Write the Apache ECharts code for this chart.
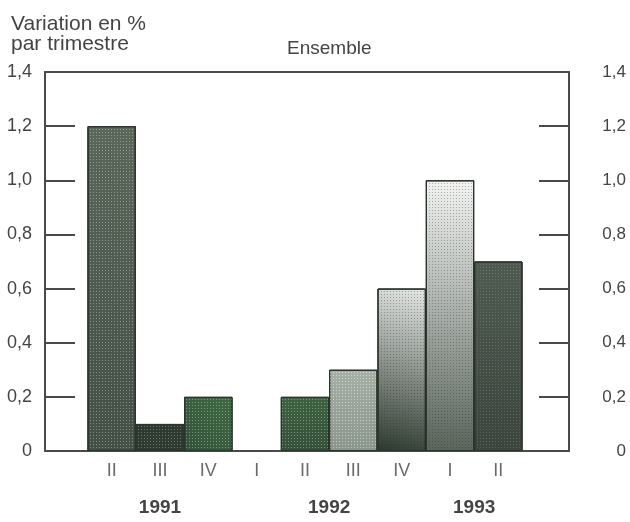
<!DOCTYPE html>
<html>
<head>
<meta charset="utf-8">
<script src="https://cdn.jsdelivr.net/npm/echarts@6/dist/echarts.min.js"></script>
<style>
html,body{margin:0;padding:0;background:#fff;}
#chart{width:630px;height:522px;}
</style>
</head>
<body>
<div id="chart"></div>
<script>
// ---- data ----
var quarters = ['II', 'III', 'IV', 'I', 'II', 'III', 'IV', 'I', 'II'];
var quarterYear = ['1991', '1991', '1991', '1992', '1992', '1992', '1992', '1993', '1993'];
var years = ['1991', '1992', '1993'];
var values = [1.2, 0.1, 0.2, 0, 0.2, 0.3, 0.6, 1.0, 0.7];
var yTicks = ['0', '0,2', '0,4', '0,6', '0,8', '1,0', '1,2', '1,4'];

// ---- styles (per bar) ----
function grad(c1, c2, x0, y0, x1, y1) {
  return new echarts.graphic.LinearGradient(x0, y0, x1, y1, [
    {offset: 0, color: c1}, {offset: 1, color: c2}
  ]);
}
var barFills = [
  grad('#5b675b', '#434e44', 1, 0, 0, 1),
  '#2e3a30',
  grad('#3f6a41', '#33513a', 1, 0, 0, 1),
  '#3a4a3c',
  grad('#3d6340', '#35503a', 0, 0, 0, 1),
  grad('#a7b0a7', '#8a958b', 0, 0, 0, 1),
  grad('#e6e8e6', '#2c382e', 1, 0, 0, 1),
  grad('#f3f4f3', '#59645b', 0.6, 0, 0.2, 1),
  grad('#4f5a51', '#3b453d', 0, 0, 0, 1)
];
var dotColors = [
  'rgba(255,255,255,0.35)', 'rgba(255,255,255,0.3)', 'rgba(255,255,255,0.35)',
  'rgba(255,255,255,0.3)', 'rgba(255,255,255,0.35)', 'rgba(255,255,255,0.45)',
  'rgba(40,50,40,0.35)', 'rgba(40,50,40,0.35)', 'rgba(255,255,255,0.15)'
];

var FONT = '"Liberation Sans", Arial, sans-serif';

var chart = echarts.init(document.getElementById('chart'), null, {renderer: 'canvas'});

var frameGrid = {left: 45, right: 61, top: 72, bottom: 71, containLabel: false};
var barGrid = {left: 87.5, right: 107.5, top: 72, bottom: 71, containLabel: false};

function yLabel(v) {
  var i = Math.round(v / 0.2);
  return yTicks[i] !== undefined ? yTicks[i] : '';
}

var frameLine = {show: true, onZero: false, lineStyle: {color: '#4a4a4a', width: 2}};

var option = {
  backgroundColor: '#ffffff',
  animation: false,
  title: [
    {
      text: 'Variation en %\npar trimestre',
      left: 6, top: 9,
      textStyle: {fontFamily: FONT, fontSize: 21, fontWeight: 'normal', color: '#444', lineHeight: 20}
    },
    {
      text: 'Ensemble',
      left: 282, top: 34,
      textStyle: {fontFamily: FONT, fontSize: 19, fontWeight: 'normal', color: '#444'}
    }
  ],
  grid: [frameGrid, barGrid],
  xAxis: [
    {
      gridIndex: 0, type: 'value', min: 0, max: 1, position: 'bottom',
      axisLine: frameLine,
      axisTick: {show: false}, axisLabel: {show: false}, splitLine: {show: false}
    },
    {
      gridIndex: 0, type: 'value', min: 0, max: 1, position: 'top',
      axisLine: frameLine,
      axisTick: {show: false}, axisLabel: {show: false}, splitLine: {show: false}
    },
    {
      gridIndex: 1, type: 'category', data: quarters,
      axisLine: {show: false}, axisTick: {show: false},
      axisLabel: {show: true, margin: 11, fontFamily: FONT, fontSize: 18, color: '#6a6a6a'},
      splitLine: {show: false}
    }
  ],
  yAxis: [
    {
      gridIndex: 0, type: 'value', min: 0, max: 1.4, interval: 0.2, position: 'left',
      axisLine: frameLine,
      axisTick: {show: true, inside: true, length: 30, lineStyle: {color: '#4a4a4a', width: 2}},
      axisLabel: {show: true, margin: 13, fontFamily: FONT, fontSize: 18, color: '#444', formatter: yLabel},
      splitLine: {show: false}
    },
    {
      gridIndex: 0, type: 'value', min: 0, max: 1.4, interval: 0.2, position: 'right',
      axisLine: frameLine,
      axisTick: {show: true, inside: true, length: 30, lineStyle: {color: '#4a4a4a', width: 2}},
      axisLabel: {show: true, margin: 57, align: 'right', fontFamily: FONT, fontSize: 17, color: '#444', formatter: yLabel},
      splitLine: {show: false}
    },
    {
      gridIndex: 1, type: 'value', min: 0, max: 1.4, interval: 0.2, show: false
    }
  ],
  series: [
    {
      type: 'bar',
      xAxisIndex: 2, yAxisIndex: 2,
      barCategoryGap: '0%',
      data: values.map(function (v, i) {
        return {
          value: v,
          itemStyle: {
            color: barFills[i],
            borderColor: '#2c342d',
            borderWidth: v > 0 ? 1 : 0,
            decal: {
              symbol: 'rect',
              symbolSize: 1,
              color: dotColors[i],
              dashArrayX: [1, 2],
              dashArrayY: [1, 2]
            }
          }
        };
      }),
      silent: true
    }
  ]
};

chart.setOption(option);

// year labels centred under each year's group of quarters, positioned through the category axis
var yearTexts = years.map(function (yr) {
  var first = quarterYear.indexOf(yr);
  var last = quarterYear.lastIndexOf(yr);
  var p1 = chart.convertToPixel({xAxisIndex: 2}, first);
  var p2 = chart.convertToPixel({xAxisIndex: 2}, last);
  return {
    type: 'text',
    x: (p1 + p2) / 2,
    y: 508,
    style: {
      text: yr,
      fontFamily: FONT,
      fontSize: 19,
      fontWeight: 'bold',
      fill: '#444',
      align: 'center',
      verticalAlign: 'middle'
    },
    silent: true
  };
});
chart.setOption({graphic: yearTexts});
</script>
</body>
</html>
